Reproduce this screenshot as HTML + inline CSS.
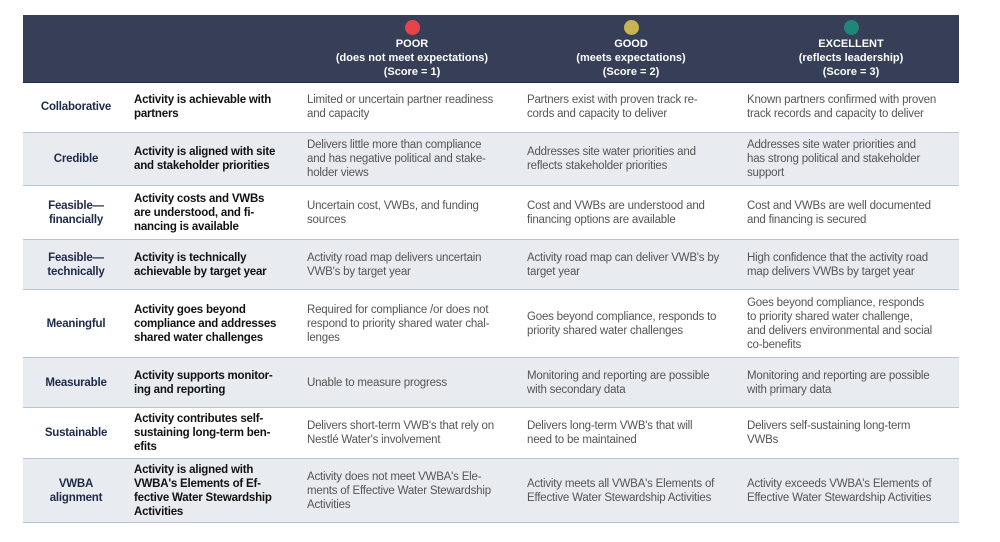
<!DOCTYPE html>
<html><head><meta charset="utf-8"><style>
body{margin:0;width:1000px;height:542px;background:#fff;font-family:"Liberation Sans",sans-serif;position:relative;overflow:hidden}
.hdr{position:absolute;left:23px;top:15px;width:936px;height:67px;background:#363f57;border-bottom:1px solid #1f2a44}
.hc{position:absolute;top:0;width:220px;text-align:center;color:#fff;font-weight:bold;font-size:11px;line-height:14px}
.dot{width:15px;height:15px;border-radius:50%;margin:5px auto 2px}
.row{position:absolute;left:23px;width:936px;border-bottom:1.5px solid #b8c3d3}
.row.s{background:#e8ebef}
.c{position:absolute;top:0;bottom:0;display:flex;align-items:center;font-size:11.5px;line-height:14px;white-space:nowrap;letter-spacing:-0.2px}
.c1{left:0;width:106px;justify-content:center;text-align:center;font-weight:bold;color:#1e2a4a}
.c2{left:111px;font-weight:bold;color:#111}
.c3{left:284px;color:#555}
.c4{left:504px;color:#555}
.c5{left:724px;color:#555}
</style></head><body>
<div class="hdr">
 <div class="hc" style="left:279px"><div class="dot" style="background:#e8434b"></div>POOR<br>(does not meet expectations)<br>(Score = 1)</div>
 <div class="hc" style="left:498px"><div class="dot" style="background:#c9b352"></div>GOOD<br>(meets expectations)<br>(Score = 2)</div>
 <div class="hc" style="left:718px"><div class="dot" style="background:#21867a"></div>EXCELLENT<br>(reflects leadership)<br>(Score = 3)</div>
</div>

<div class="row" style="top:82px;height:50px">
 <div class="c c1">Collaborative</div><div class="c c2">Activity is achievable with<br>partners</div>
 <div class="c c3">Limited or uncertain partner readiness<br>and capacity</div>
 <div class="c c4">Partners exist with proven track re-<br>cords and capacity to deliver</div>
 <div class="c c5">Known partners confirmed with proven<br>track records and capacity to deliver</div></div>

<div class="row s" style="top:133px;height:52px">
 <div class="c c1">Credible</div><div class="c c2">Activity is aligned with site<br>and stakeholder priorities</div>
 <div class="c c3">Delivers little more than compliance<br>and has negative political and stake-<br>holder views</div>
 <div class="c c4">Addresses site water priorities and<br>reflects stakeholder priorities</div>
 <div class="c c5">Addresses site water priorities and<br>has strong political and stakeholder<br>support</div></div>

<div class="row" style="top:186px;height:53px">
 <div class="c c1">Feasible—<br>financially</div><div class="c c2">Activity costs and VWBs<br>are understood, and fi-<br>nancing is available</div>
 <div class="c c3">Uncertain cost, VWBs, and funding<br>sources</div>
 <div class="c c4">Cost and VWBs are understood and<br>financing options are available</div>
 <div class="c c5">Cost and VWBs are well documented<br>and financing is secured</div></div>

<div class="row s" style="top:240px;height:49px">
 <div class="c c1">Feasible—<br>technically</div><div class="c c2">Activity is technically<br>achievable by target year</div>
 <div class="c c3">Activity road map delivers uncertain<br>VWB's by target year</div>
 <div class="c c4">Activity road map can deliver VWB's by<br>target year</div>
 <div class="c c5">High confidence that the activity road<br>map delivers VWBs by target year</div></div>

<div class="row" style="top:290px;height:67px">
 <div class="c c1">Meaningful</div><div class="c c2">Activity goes beyond<br>compliance and addresses<br>shared water challenges</div>
 <div class="c c3">Required for compliance /or does not<br>respond to priority shared water chal-<br>lenges</div>
 <div class="c c4">Goes beyond compliance, responds to<br>priority shared water challenges</div>
 <div class="c c5">Goes beyond compliance, responds<br>to priority shared water challenge,<br>and delivers environmental and social<br>co-benefits</div></div>

<div class="row s" style="top:358px;height:49px">
 <div class="c c1">Measurable</div><div class="c c2">Activity supports monitor-<br>ing and reporting</div>
 <div class="c c3">Unable to measure progress</div>
 <div class="c c4">Monitoring and reporting are possible<br>with secondary data</div>
 <div class="c c5">Monitoring and reporting are possible<br>with primary data</div></div>

<div class="row" style="top:408px;height:50px">
 <div class="c c1">Sustainable</div><div class="c c2">Activity contributes self-<br>sustaining long-term ben-<br>efits</div>
 <div class="c c3">Delivers short-term VWB's that rely on<br>Nestlé Water's involvement</div>
 <div class="c c4">Delivers long-term VWB's that will<br>need to be maintained</div>
 <div class="c c5">Delivers self-sustaining long-term<br>VWBs</div></div>

<div class="row s" style="top:459px;height:63px">
 <div class="c c1">VWBA<br>alignment</div><div class="c c2">Activity is aligned with<br>VWBA's Elements of Ef-<br>fective Water Stewardship<br>Activities</div>
 <div class="c c3">Activity does not meet VWBA's Ele-<br>ments of Effective Water Stewardship<br>Activities</div>
 <div class="c c4">Activity meets all VWBA's Elements of<br>Effective Water Stewardship Activities</div>
 <div class="c c5">Activity exceeds VWBA's Elements of<br>Effective Water Stewardship Activities</div></div>
</body></html>
